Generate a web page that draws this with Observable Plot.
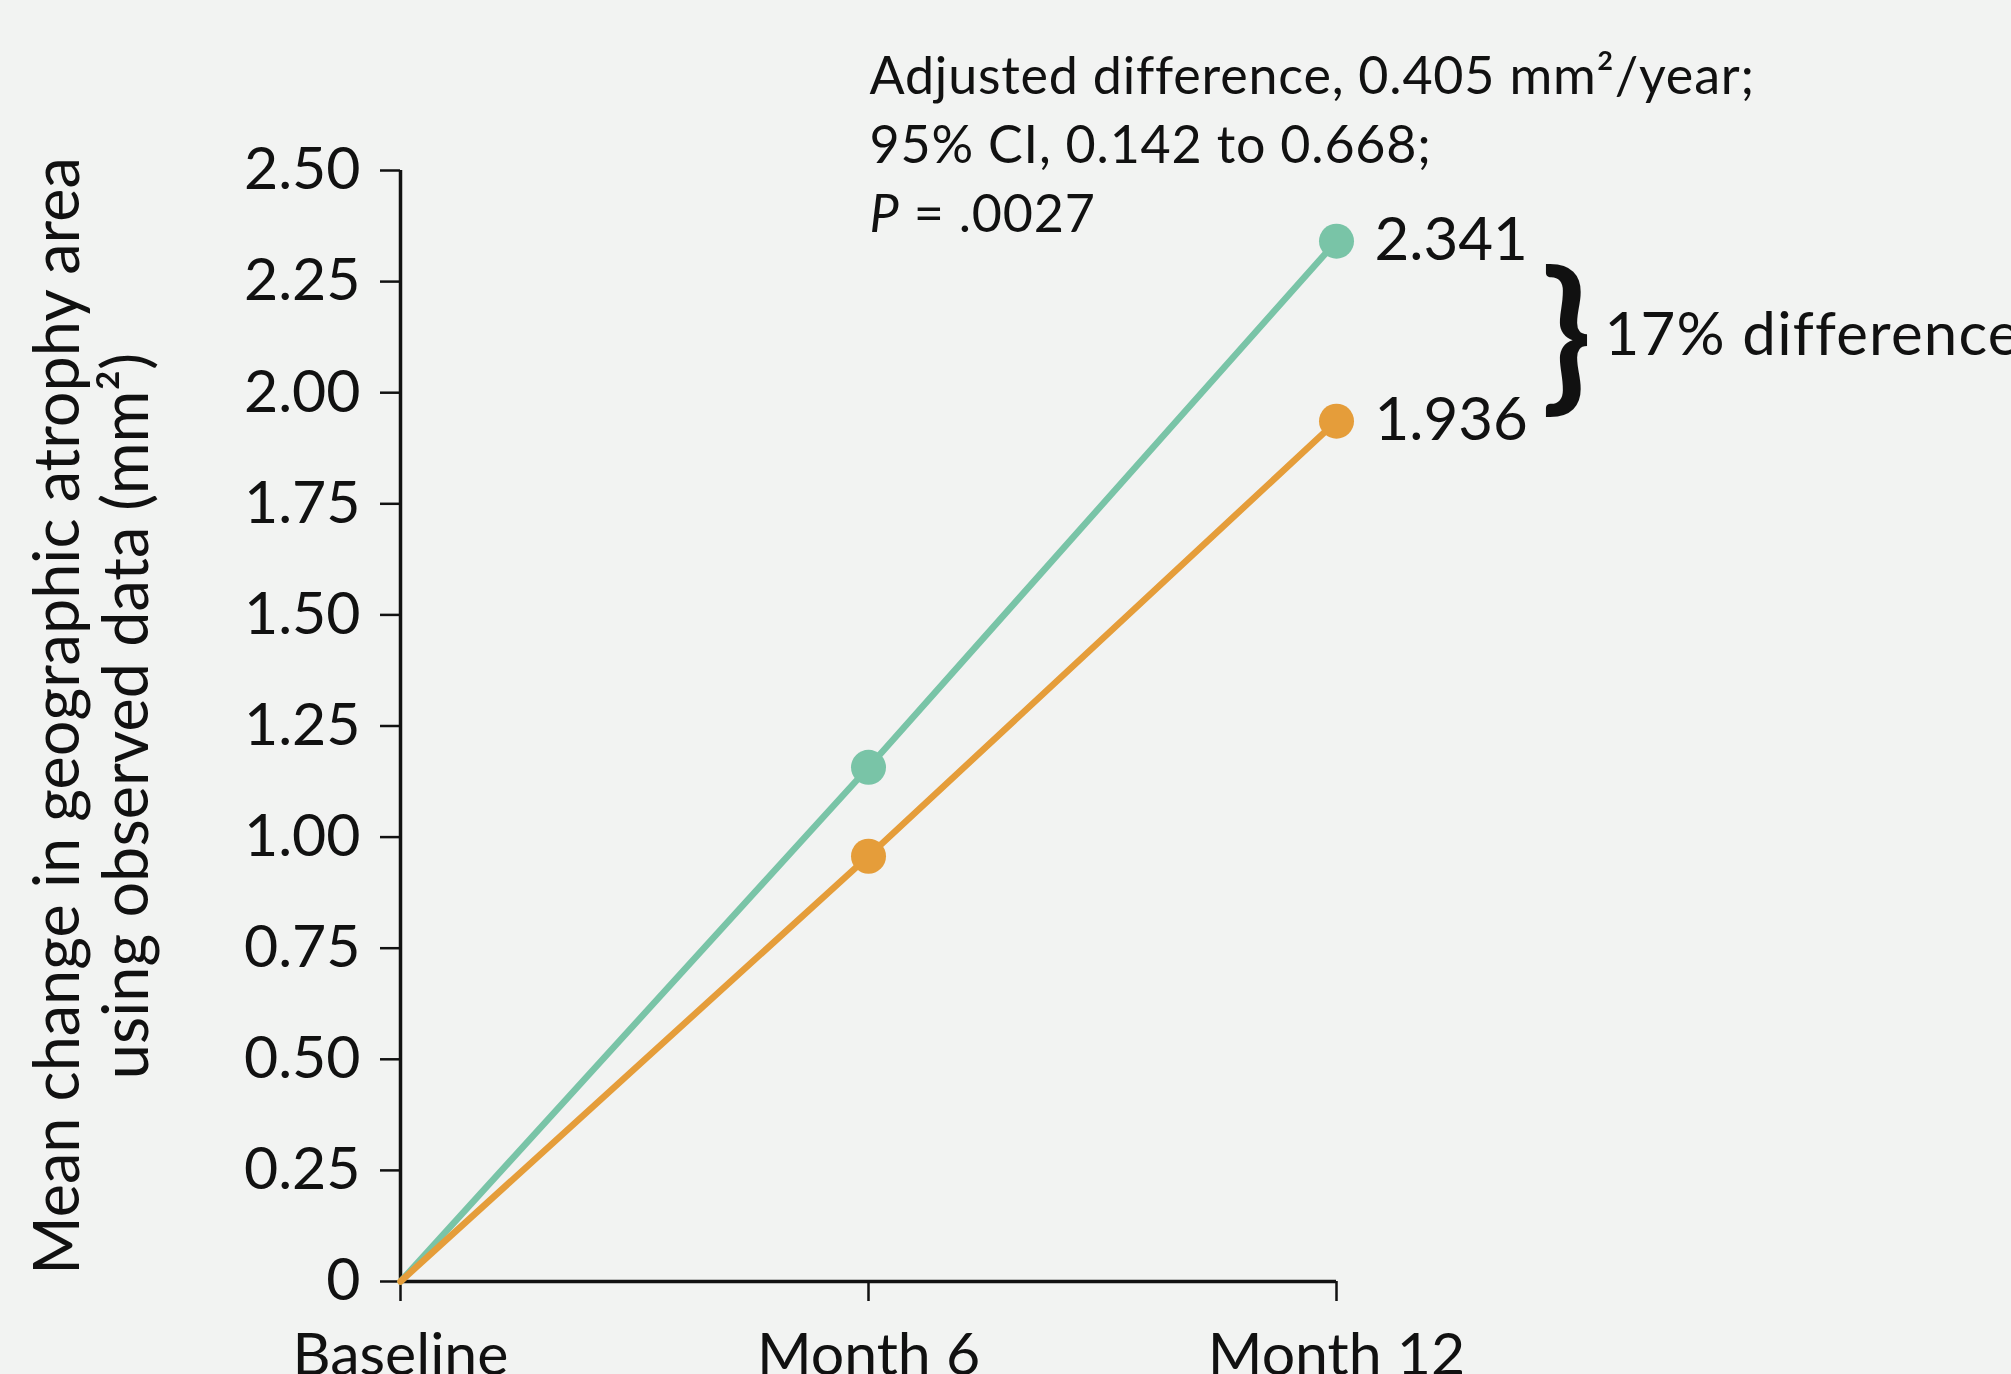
<!DOCTYPE html>
<html><head><meta charset="utf-8">
<script src="https://cdn.jsdelivr.net/npm/d3@7"></script>
<script src="https://cdn.jsdelivr.net/npm/@observablehq/plot@0.6"></script>
<style>
html,body{margin:0;padding:0;background:#f2f3f2;overflow:hidden;}
#chart svg{display:block;}
</style></head><body><div id="chart"></div>
<script>
const months = [0, 6, 12];
const timeLabels = ["Baseline", "Month 6", "Month 12"];
const seriesNames = ["Group A", "Group B"];
const seriesA = [0, 1.157, 2.341];
const seriesB = [0, 0.957, 1.936];
const seriesColors = ["#79c4a7", "#e59d3a"];
const yTicks = [0, 0.25, 0.5, 0.75, 1, 1.25, 1.5, 1.75, 2, 2.25, 2.5];
const yTickLabels = ["0","0.25","0.50","0.75","1.00","1.25","1.50","1.75","2.00","2.25","2.50"];
const yLabelLines = ["Mean change in geographic atrophy area", "using observed data (mm²)"];
const annotationLines = ["Adjusted difference, 0.405 mm²/year;", "95% CI, 0.142 to 0.668;", "P = .0027"];
const differenceLabel = "17% difference";

const data = [];
seriesNames.forEach((s, si) => {
  const vals = si === 0 ? seriesA : seriesB;
  months.forEach((m, i) => data.push({series: s, month: m, value: vals[i]}));
});
const dots = data.filter(d => d.month > 0);
const endPoints = data.filter(d => d.month === months[2]);
const mid = {month: months[2], value: (seriesA[2] + seriesB[2]) / 2};
const FONT = "Lato, 'Open Sans', sans-serif";

const chart = Plot.plot({
  width: 2011, height: 1374,
  marginLeft: 400, marginRight: 675, marginTop: 170, marginBottom: 93,
  style: {background: "#f2f3f2", fontFamily: FONT, color: "#111", overflow: "visible"},
  x: {domain: [0, 12]},
  y: {domain: [0, 2.5]},
  color: {domain: seriesNames, range: seriesColors},
  marks: [
    Plot.axisY({ticks: yTicks, tickFormat: d => yTickLabels[yTicks.indexOf(d)], tickSize: 20, tickPadding: 20, fontSize: 59, strokeWidth: 2.5, label: null}),
    Plot.axisX({ticks: months, tickFormat: d => timeLabels[months.indexOf(d)], tickSize: 20, tickPadding: 32, fontSize: 59, strokeWidth: 2.5, label: null}),
    Plot.ruleX([0], {y1: 0, y2: 2.5, strokeWidth: 3.5}),
    Plot.ruleY([0], {x1: 0, x2: 12, strokeWidth: 3.5}),
    Plot.line(data, {x: "month", y: "value", stroke: "series", strokeWidth: 6.5}),
    Plot.dot(dots, {x: "month", y: "value", fill: "series", r: 17.5}),
    Plot.text(endPoints, {x: "month", y: "value", text: d => d.value.toFixed(3), textAnchor: "start", dx: 38, fontSize: 60, fill: "#111"}),
    Plot.text([mid], {x: "month", y: "value", text: () => "}", fontSize: 165, fontWeight: 700, dx: 230, dy: 8, fill: "#111"}),
    Plot.text([mid], {x: "month", y: "value", text: () => differenceLabel, textAnchor: "start", dx: 268, dy: 5, fontSize: 60, fill: "#111"}),
    Plot.text([annotationLines.join("\n")], {x: months[1], frameAnchor: "top", lineAnchor: "bottom", textAnchor: "start", dx: 1, dy: 61, fontSize: 52, lineHeight: 1.32, fill: "#111"}),
    Plot.text([yLabelLines.join("\n")], {frameAnchor: "left", textAnchor: "middle", rotate: -90, lineAnchor: "bottom", dx: -253, dy: -10, fontSize: 63, lineHeight: 1.095, fill: "#111"})
  ]
});
document.getElementById("chart").appendChild(chart);

// letter spacing for wider labels
d3.select(chart).selectAll("text").filter(function() { return this.textContent === differenceLabel; })
  .style("letter-spacing", "1.2px");
d3.select(chart).selectAll("text").filter(function() { return this.textContent.startsWith("Adjusted"); })
  .style("letter-spacing", "0.8px");

// italic P
d3.select(chart).selectAll("text, tspan").filter(function() {
  return this.childElementCount === 0 && this.textContent === annotationLines[2];
}).each(function() {
  const el = d3.select(this);
  const rest = annotationLines[2].slice(1);
  el.text(null);
  el.append("tspan").attr("font-style", "italic").text("P");
  el.append("tspan").text(rest);
});
</script></body></html>
